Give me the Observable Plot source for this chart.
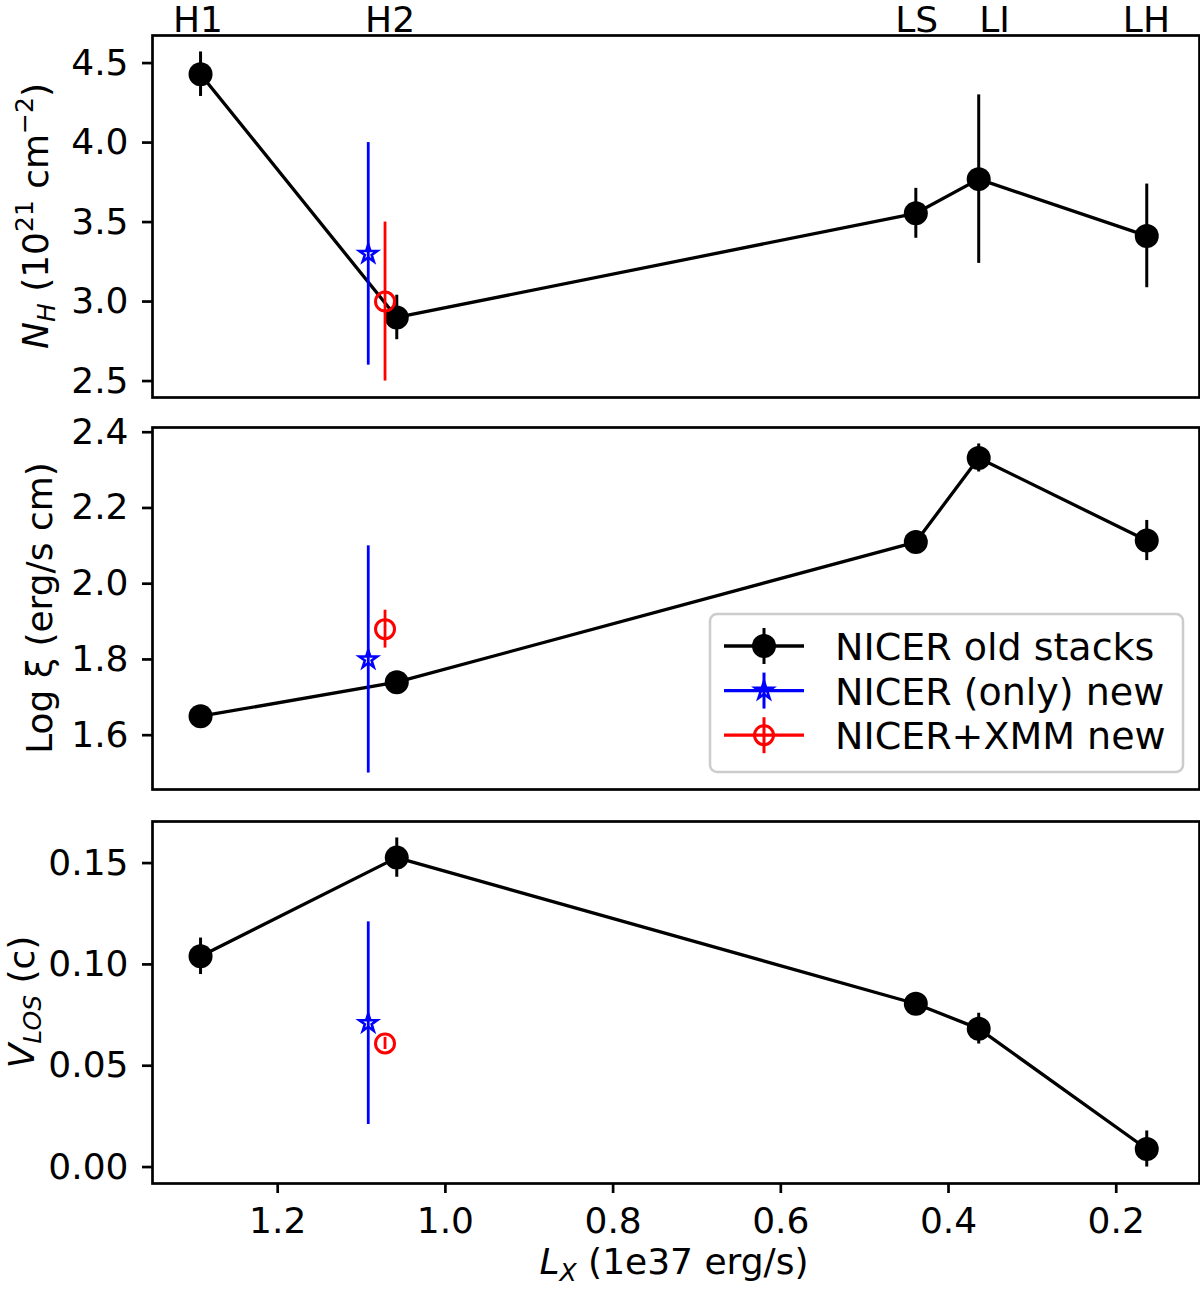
<!DOCTYPE html>
<html>
<head>
<meta charset="utf-8">
<script src="https://cdn.jsdelivr.net/npm/d3@7"></script>
<script src="https://cdn.jsdelivr.net/npm/@observablehq/plot@0.6"></script>
<style>
  body { margin: 0; background: #fff; }
  #chart { position: relative; width: 1200px; height: 1290px; font-family: "DejaVu Sans", sans-serif; color: #000; }
  #chart svg { position: absolute; left: 0; overflow: visible; }
</style>
</head>
<body>
<div id="chart"></div>
<script>
// Spectral states, ordered from bright to faint
const states = ["H1", "H2", "LS", "LI", "LH"];
const stateLabelPos = [1.295, 1.066, 0.438, 0.345, 0.164];

// NICER old stacks
const lumOld = [1.292, 1.058, 0.439, 0.364, 0.1636];
const nhOld = [4.43, 2.90, 3.555, 3.77, 3.413];
const nhOldErr = [0.14, 0.14, 0.157, 0.53, 0.326];
const xiOld = [1.65, 1.74, 2.11, 2.332, 2.114];
const xiOldErr = [0.015, 0.015, 0.015, 0.037, 0.053];
const vOld = [0.104, 0.1527, 0.0806, 0.0683, 0.0089];
const vOldErr = [0.009, 0.0097, 0.003, 0.0076, 0.0089];

// NICER (only) new
const lumNicerNew = [1.092];
const nhNicerNew = [3.3], nhNicerNewErr = [0.7];
const xiNicerNew = [1.80], xiNicerNewErr = [0.3];
const vNicerNew = [0.071], vNicerNewErr = [0.05];

// NICER+XMM new
const lumJointNew = [1.072];
const nhJointNew = [3.0], nhJointNewErr = [0.5];
const xiJointNew = [1.88], xiJointNewErr = [0.05];
const vJointNew = [0.061], vJointNewErr = [0.003];

// Tick values
const xTicks = [1.2, 1.0, 0.8, 0.6, 0.4, 0.2];
const nhTicks = [2.5, 3.0, 3.5, 4.0, 4.5];
const xiTicks = [1.6, 1.8, 2.0, 2.2, 2.4];
const vTicks = [0.00, 0.05, 0.10, 0.15];

const legendLabels = ["NICER old stacks", "NICER (only) new", "NICER+XMM new"];

const rows = (xs, ys, es) => xs.map((x, i) => ({x, y: ys[i], lo: ys[i] - es[i], hi: ys[i] + es[i]}));
// matplotlib-style autoscale: data extent plus 5% on each side
const padded = (vals) => { const [a, b] = d3.extent(vals); const m = (b - a) * 0.05; return [a - m, b + m]; };

const X_DOMAIN = [1.3493, 0.1007];
const FONT = "DejaVu Sans";
const chart = document.getElementById("chart");

function panel({old, nicer, joint, ticks, fmt, top, height, marginTop, marginBottom, bottomAxis, stateLabels}) {
  const all = [...old, ...nicer, ...joint];
  const yDomain = padded(all.flatMap(d => [d.lo, d.hi]));
  const marks = [
    Plot.frame({stroke: "black", strokeWidth: 2.7}),
    Plot.axisY(ticks, {tickSize: 10, tickPadding: 14, fontSize: 36, strokeWidth: 2.7, tickFormat: d3.format(fmt), label: null}),
    Plot.line(old, {x: "x", y: "y", stroke: "black", strokeWidth: 3.3}),
    Plot.ruleX(old, {x: "x", y1: "lo", y2: "hi", stroke: "black", strokeWidth: 3}),
    Plot.dot(old, {x: "x", y: "y", r: 12, fill: "black", stroke: null}),
    Plot.ruleX(nicer, {x: "x", y1: "lo", y2: "hi", stroke: "blue", strokeWidth: 2.8}),
    Plot.dot(nicer, {x: "x", y: "y", symbol: "star", r: 5.6, fill: "none", stroke: "blue", strokeWidth: 2.6}),
    Plot.ruleX(joint, {x: "x", y1: "lo", y2: "hi", stroke: "red", strokeWidth: 2.8}),
    Plot.dot(joint, {x: "x", y: "y", r: 9.5, fill: "none", stroke: "red", strokeWidth: 3})
  ];
  if (bottomAxis) {
    marks.push(Plot.axisX(xTicks, {tickSize: 10, tickPadding: 14, fontSize: 36, strokeWidth: 2.7, tickFormat: d3.format(".1f"), label: null}));
  }
  if (stateLabels) {
    marks.push(Plot.text(states.map((s, i) => ({x: stateLabelPos[i], s})), {
      x: "x", text: "s", frameAnchor: "top", lineAnchor: "bottom", dy: -4, fontSize: 36
    }));
  }
  const svg = Plot.plot({
    width: 1200, height,
    marginLeft: 152, marginRight: 1, marginTop, marginBottom,
    x: bottomAxis ? {domain: X_DOMAIN} : {domain: X_DOMAIN, axis: null},
    y: {domain: yDomain},
    style: {fontFamily: FONT, color: "black", background: "transparent", overflow: "visible"},
    marks
  });
  svg.style.top = top + "px";
  chart.appendChild(svg);
  return svg;
}

panel({
  old: rows(lumOld, nhOld, nhOldErr), nicer: rows(lumNicerNew, nhNicerNew, nhNicerNewErr), joint: rows(lumJointNew, nhJointNew, nhJointNewErr),
  ticks: nhTicks, fmt: ".1f", top: 0, height: 410, marginTop: 35, marginBottom: 13, stateLabels: true
});
panel({
  old: rows(lumOld, xiOld, xiOldErr), nicer: rows(lumNicerNew, xiNicerNew, xiNicerNewErr), joint: rows(lumJointNew, xiJointNew, xiJointNewErr),
  ticks: xiTicks, fmt: ".1f", top: 410, height: 390, marginTop: 17, marginBottom: 11
});
panel({
  old: rows(lumOld, vOld, vOldErr), nicer: rows(lumNicerNew, vNicerNew, vNicerNewErr), joint: rows(lumJointNew, vJointNew, vJointNewErr),
  ticks: vTicks, fmt: ".2f", top: 800, height: 490, marginTop: 21, marginBottom: 107, bottomAxis: true
});

// Axis titles (with sub/superscripts) and the legend, drawn on an overlay layer
const overlay = d3.select(chart).append("svg")
  .attr("width", 1200).attr("height", 1290)
  .style("top", "0px")
  .attr("font-family", FONT);

function richLabel(g, parts) {
  const t = g.append("text").attr("text-anchor", "middle").attr("font-size", 36).attr("fill", "black");
  for (const p of parts) {
    const s = t.append("tspan").text(p.t);
    if (p.italic) s.attr("font-style", "italic");
    if (p.size) s.attr("font-size", p.size);
    if (p.dy) s.attr("dy", p.dy);
  }
  return t;
}

// N_H (10^21 cm^-2)
richLabel(overlay.append("g").attr("transform", "translate(48,216) rotate(-90)"), [
  {t: "N", italic: true}, {t: "H", italic: true, size: 25, dy: 7}, {t: " (10", dy: -7},
  {t: "21", size: 25, dy: -15}, {t: " cm", dy: 15}, {t: "\u22122", size: 25, dy: -15}, {t: ")", dy: 15}
]);
// Log ξ (erg/s cm)
richLabel(overlay.append("g").attr("transform", "translate(52,608) rotate(-90)"), [
  {t: "Log \u03be (erg/s cm)"}
]);
// V_LOS (c)
richLabel(overlay.append("g").attr("transform", "translate(34,1002) rotate(-90)"), [
  {t: "V", italic: true}, {t: "LOS", italic: true, size: 25, dy: 7}, {t: " (c)", dy: -7}
]);
// L_X (1e37 erg/s)
richLabel(overlay.append("g").attr("transform", "translate(674,1274)"), [
  {t: "L", italic: true}, {t: "X", italic: true, size: 25, dy: 7}, {t: " (1e37 erg/s)", dy: -7}
]);

// Legend
const leg = overlay.append("g");
leg.append("rect").attr("x", 710).attr("y", 614).attr("width", 473).attr("height", 158)
  .attr("rx", 7).attr("fill", "white").attr("fill-opacity", 0.8)
  .attr("stroke", "#cccccc").attr("stroke-width", 2.5);
const legendStyles = [
  {color: "black", symbol: "circle"},
  {color: "blue", symbol: "star"},
  {color: "red", symbol: "ring"}
];
legendLabels.forEach((label, i) => {
  const cy = 646 + i * 44.6;
  const {color, symbol} = legendStyles[i];
  const g = leg.append("g");
  g.append("line").attr("x1", 724).attr("x2", 804).attr("y1", cy).attr("y2", cy).attr("stroke", color).attr("stroke-width", 3.3);
  g.append("line").attr("x1", 764).attr("x2", 764).attr("y1", cy - 18).attr("y2", cy + 18).attr("stroke", color).attr("stroke-width", 3);
  if (symbol === "circle") {
    g.append("circle").attr("cx", 764).attr("cy", cy).attr("r", 12).attr("fill", color);
  } else if (symbol === "star") {
    g.append("path").attr("transform", `translate(764,${cy})`)
      .attr("d", d3.symbol(d3.symbolStar, Math.PI * 5.6 * 5.6)())
      .attr("fill", "none").attr("stroke", color).attr("stroke-width", 2.6);
  } else {
    g.append("circle").attr("cx", 764).attr("cy", cy).attr("r", 9.5).attr("fill", "none").attr("stroke", color).attr("stroke-width", 3);
  }
  g.append("text").attr("x", 835).attr("y", cy + 14).attr("font-size", 38).attr("fill", "black").text(label);
});
</script>
</body>
</html>
